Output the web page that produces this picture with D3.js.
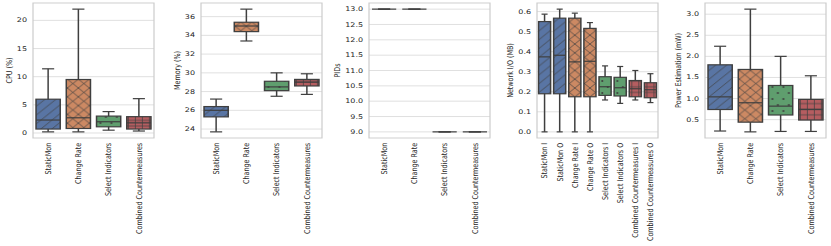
<!DOCTYPE html>
<html>
<head>
<meta charset="utf-8">
<script src="https://cdn.jsdelivr.net/npm/d3@7"></script>
<style>
  body { margin: 0; background: #fff; }
  text { font-family: "DejaVu Sans", sans-serif; fill: #262626; }
</style>
</head>
<body>
<div id="chart"></div>
<script>
// categories
const groups = ["StaticMon", "Change Rate", "Select Indicators", "Combined Countermeasures"];
const netGroups = ["StaticMon I", "StaticMon O", "Change Rate I", "Change Rate O",
  "Select Indicators I", "Select Indicators O", "Combined Countermeasures I", "Combined Countermeasures O"];

// box stats: [low whisker, q1, median, q3, high whisker]
const cpuStats = [[0.2, 0.7, 2.3, 6.0, 11.4], [0.2, 0.8, 2.7, 9.5, 22.0], [0.5, 1.1, 2.0, 3.0, 3.8], [0.35, 0.7, 1.8, 2.9, 6.1]];
const memStats = [[23.7, 25.3, 26.0, 26.4, 27.2], [33.4, 34.4, 35.0, 35.4, 36.8], [27.5, 28.1, 28.5, 29.1, 30.0], [27.7, 28.6, 29.0, 29.3, 29.9]];
const pidStats = [[13, 13, 13, 13, 13], [13, 13, 13, 13, 13], [9, 9, 9, 9, 9], [9, 9, 9, 9, 9]];
const netStats = [[0.0, 0.19, 0.374, 0.55, 0.587], [0.0, 0.19, 0.382, 0.567, 0.612], [0.0, 0.175, 0.349, 0.567, 0.592], [0.0, 0.175, 0.352, 0.516, 0.545],
  [0.159, 0.182, 0.225, 0.275, 0.329], [0.142, 0.179, 0.22, 0.272, 0.326], [0.159, 0.175, 0.215, 0.256, 0.306], [0.146, 0.17, 0.21, 0.245, 0.29]];
const powerStats = [[0.23, 0.74, 1.04, 1.8, 2.24], [0.21, 0.44, 0.9, 1.69, 3.12], [0.22, 0.61, 0.82, 1.31, 2.0], [0.22, 0.49, 0.74, 0.98, 1.54]];

// tick labels
const cpuTicks = [0, 5, 10, 15, 20];
const memTicks = [24, 26, 28, 30, 32, 34, 36];
const pidTicks = [9.0, 9.5, 10.0, 10.5, 11.0, 11.5, 12.0, 12.5, 13.0];
const netTicks = [0.0, 0.1, 0.2, 0.3, 0.4, 0.5, 0.6];
const powerTicks = [0.5, 1.0, 1.5, 2.0, 2.5, 3.0];

const colors = ["#5975a4", "#cc8963", "#5f9e6e", "#b55d60"];
const hatches = ["hatch-slash", "hatch-x", "hatch-dot", "hatch-plus"];
const edge = "#3f3f3f";

const W = 831, H = 246, ky = 0.8;   // figure is squeezed vertically
const yTop = 3 / ky, yBottom = 138 / ky, panelW = 121;

const svg = d3.select("#chart").append("svg").attr("width", W).attr("height", H);
const defs = svg.append("defs");

function pattern(id, w, h) {
  return defs.append("pattern").attr("id", id).attr("patternUnits", "userSpaceOnUse")
    .attr("width", w).attr("height", h);
}
let p = pattern("hatch-slash", 11, 11);
p.append("path").attr("d", "M0,11L11,0M-2,2L2,-2M9,13L13,9").attr("stroke", edge).attr("stroke-width", 0.8);
p = pattern("hatch-x", 11, 11);
p.append("path").attr("d", "M0,11L11,0M-2,2L2,-2M9,13L13,9M0,0L11,11M-2,9L2,13M9,-2L13,2").attr("stroke", edge).attr("stroke-width", 0.8);
p = pattern("hatch-dot", 11, 15);
p.append("circle").attr("cx", 2.75).attr("cy", 3.75).attr("r", 1.1).attr("fill", edge);
p.append("circle").attr("cx", 8.25).attr("cy", 11.25).attr("r", 1.1).attr("fill", edge);
p = pattern("hatch-plus", 7, 7);
p.append("path").attr("d", "M3.5,0V7M0,3.5H7").attr("stroke", edge).attr("stroke-width", 0.8);

const root = svg.append("g").attr("transform", `scale(1,${ky})`);

const panels = [
  { x: 33, cats: groups, stats: cpuStats, ticks: cpuTicks, fmt: d3.format("d"), label: "CPU (%)" },
  { x: 201, cats: groups, stats: memStats, ticks: memTicks, fmt: d3.format("d"), label: "Memory (%)" },
  { x: 369, cats: groups, stats: pidStats, ticks: pidTicks, fmt: d3.format(".1f"), label: "PIDs" },
  { x: 537, cats: netGroups, stats: netStats, ticks: netTicks, fmt: d3.format(".1f"), label: "Network I/O (MB)" },
  { x: 705, cats: groups, stats: powerStats, ticks: powerTicks, fmt: d3.format(".1f"), label: "Power Estimation (mW)" }
];

panels.forEach(pn => {
  const g = root.append("g").attr("transform", `translate(${pn.x},0)`);
  const lo = d3.min(pn.stats, d => d[0]), hi = d3.max(pn.stats, d => d[4]);
  const m = (hi - lo) * 0.05;
  const y = d3.scaleLinear().domain([lo - m, hi + m]).range([yBottom, yTop]);
  const x = d3.scaleBand().domain(pn.cats).range([0, panelW]);
  const bw = x.bandwidth() * 0.8;
  const nPer = pn.cats.length / 4;

  // grid
  g.selectAll(".grid").data(pn.ticks).enter().append("line")
    .attr("x1", 0).attr("x2", panelW).attr("y1", d => y(d)).attr("y2", d => y(d))
    .attr("stroke", "#dcdcdc").attr("stroke-width", 1);

  // y tick labels
  const tl = g.selectAll(".ytick").data(pn.ticks).enter().append("text")
    .attr("x", -6).attr("y", d => y(d)).attr("dy", "0.32em")
    .attr("text-anchor", "end").attr("font-size", 8).text(pn.fmt);
  let maxW = 0;
  tl.each(function () { maxW = Math.max(maxW, this.getComputedTextLength()); });

  // y label
  const lx = -(6 + maxW + 5);
  g.append("text").attr("transform", `translate(${lx},${(yTop + yBottom) / 2}) rotate(-90)`)
    .attr("text-anchor", "middle").attr("font-size", 8).text(pn.label);

  // x labels
  g.selectAll(".xlab").data(pn.cats).enter().append("text")
    .attr("transform", d => `translate(${x(d) + x.bandwidth() / 2},${yBottom + 6}) rotate(-90)`)
    .attr("dy", "0.35em").attr("text-anchor", "end").attr("font-size", 8).text(d => d);

  // boxes
  const box = g.selectAll(".box").data(pn.stats).enter().append("g")
    .attr("transform", (d, i) => `translate(${x(pn.cats[i]) + x.bandwidth() / 2},0)`);
  box.append("line").attr("y1", d => y(d[0])).attr("y2", d => y(d[4]))
    .attr("stroke", edge).attr("stroke-width", 1.5);
  box.append("line").attr("x1", -bw / 4).attr("x2", bw / 4).attr("y1", d => y(d[0])).attr("y2", d => y(d[0]))
    .attr("stroke", edge).attr("stroke-width", 1.5);
  box.append("line").attr("x1", -bw / 4).attr("x2", bw / 4).attr("y1", d => y(d[4])).attr("y2", d => y(d[4]))
    .attr("stroke", edge).attr("stroke-width", 1.5);
  box.append("rect").attr("x", -bw / 2).attr("width", bw)
    .attr("y", d => y(d[3])).attr("height", d => y(d[1]) - y(d[3]))
    .attr("fill", (d, i) => colors[Math.floor(i / nPer)]);
  box.append("rect").attr("x", -bw / 2).attr("width", bw)
    .attr("y", d => y(d[3])).attr("height", d => y(d[1]) - y(d[3]))
    .attr("fill", (d, i) => `url(#${hatches[Math.floor(i / nPer)]})`)
    .attr("stroke", edge).attr("stroke-width", 1.5);
  box.append("line").attr("x1", -bw / 2).attr("x2", bw / 2).attr("y1", d => y(d[2])).attr("y2", d => y(d[2]))
    .attr("stroke", edge).attr("stroke-width", 1.5);

  // frame
  g.append("rect").attr("x", 0).attr("y", yTop).attr("width", panelW).attr("height", yBottom - yTop)
    .attr("fill", "none").attr("stroke", "#cccccc").attr("stroke-width", 1.2);
});
</script>
</body>
</html>
